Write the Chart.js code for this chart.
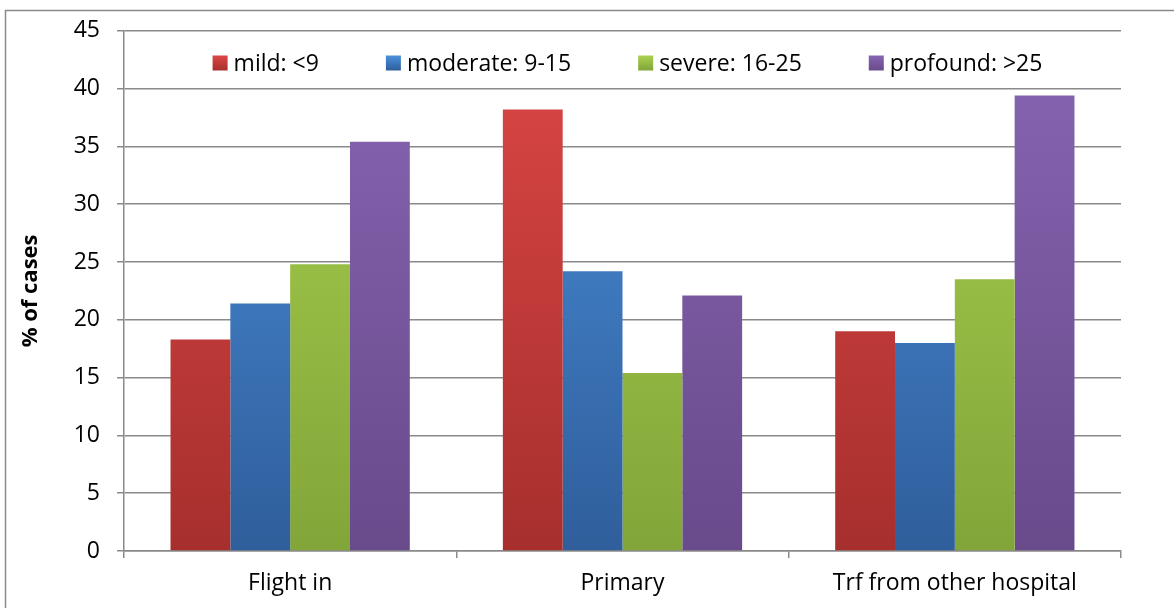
<!DOCTYPE html>
<html>
<head>
<meta charset="utf-8">
<script src="https://cdn.jsdelivr.net/npm/chart.js@4"></script>
<style>
  html, body { margin: 0; padding: 0; background: #fff; }
  #wrap { width: 1174px; height: 608px; position: relative; }
</style>
</head>
<body>
<div id="wrap"><canvas id="chart"></canvas></div>
<script>
// % of cases by severity, per mode of arrival
const categories = ['Flight in', 'Primary', 'Trf from other hospital'];
const seriesNames = ['mild: <9', 'moderate: 9-15', 'severe: 16-25', 'profound: >25'];
const mild = [18.3, 38.2, 19.0];
const moderate = [21.4, 24.2, 18.0];
const severe = [24.8, 15.4, 23.5];
const profound = [35.4, 22.1, 39.4];
const yTicks = [0, 5, 10, 15, 20, 25, 30, 35, 40, 45];

// top / bottom shade for each series
const shades = [
    ['#dc4745', '#a62f2d'],
    ['#4b90dc', '#2f5e9b'],
    ['#aad14f', '#82a539'],
    ['#8865b3', '#694a8b']
];

const FONT = "'Open Sans', 'Liberation Sans', sans-serif";

function barFill(i) {
    return function(context) {
        const area = context.chart.chartArea;
        if (!area) return shades[i][0];
        const g = context.chart.ctx.createLinearGradient(0, area.top, 0, area.bottom);
        g.addColorStop(0, shades[i][0]);
        g.addColorStop(1, shades[i][1]);
        return g;
    };
}

// frame round the whole chart (only top and left edges show)
const framePlugin = {
    id: 'frame',
    beforeDraw(chart) {
        const ctx = chart.ctx;
        ctx.save();
        ctx.strokeStyle = '#8a8a8a';
        ctx.lineWidth = 1.5;
        ctx.strokeRect(5.5, 10.5, 1400, 800);
        ctx.restore();
    }
};

// legend drawn inside the plot area, one row, centred
const insideLegend = {
    id: 'insideLegend',
    afterDraw(chart) {
        const ctx = chart.ctx;
        const area = chart.chartArea;
        const box = 15, gapBox = 6, gapItem = 67;
        ctx.save();
        ctx.font = '23px ' + FONT;
        ctx.textBaseline = 'middle';
        const items = chart.data.datasets.map((ds, i) => ({
            label: ds.label,
            w: ctx.measureText(ds.label).width,
            i: i
        }));
        let total = 0;
        items.forEach((it, k) => { total += box + gapBox + it.w + (k < items.length - 1 ? gapItem : 0); });
        let x = (area.left + area.right) / 2 - total / 2 + 5;
        const y = 63;
        items.forEach(it => {
            const g = ctx.createLinearGradient(0, y - box / 2, 0, y + box / 2);
            g.addColorStop(0, shades[it.i][0]);
            g.addColorStop(1, shades[it.i][1]);
            ctx.fillStyle = g;
            ctx.fillRect(x, y - box / 2, box, box);
            ctx.fillStyle = '#000';
            ctx.fillText(it.label, x + box + gapBox, y + 1);
            x += box + gapBox + it.w + gapItem;
        });
        ctx.restore();
    }
};

const series = [mild, moderate, severe, profound];

const ctx = document.getElementById('chart').getContext('2d');
const chart = new Chart(ctx, {
    type: 'bar',
    data: {
        labels: categories,
        datasets: series.map((vals, i) => ({
            label: seriesNames[i],
            data: vals,
            backgroundColor: barFill(i),
            borderWidth: 0,
            categoryPercentage: 0.72,
            barPercentage: 1.0
        }))
    },
    options: {
        responsive: true,
        maintainAspectRatio: false,
        animation: false,
        layout: {
            padding: { top: 29, right: 53, bottom: 0, left: 0 }
        },
        plugins: {
            legend: { display: false },
            tooltip: { enabled: false }
        },
        scales: {
            x: {
                grid: {
                    display: true,
                    drawOnChartArea: false,
                    drawTicks: true,
                    tickLength: 7,
                    color: '#8a8a8a',
                    lineWidth: 1.5
                },
                border: { color: '#8a8a8a', width: 1.5 },
                ticks: {
                    color: '#000',
                    font: { family: FONT, size: 23 },
                    padding: 12,
                    maxRotation: 0
                },
                afterFit: function(scale) { scale.height = 57; }
            },
            y: {
                min: 0,
                max: 45,
                afterBuildTicks: function(scale) {
                    scale.ticks = yTicks.map(v => ({ value: v }));
                },
                grid: {
                    color: '#8a8a8a',
                    lineWidth: 1.5,
                    drawTicks: true,
                    tickLength: 7
                },
                border: { color: '#8a8a8a', width: 1.5 },
                ticks: {
                    color: '#000',
                    font: { family: FONT, size: 23 },
                    padding: 17
                },
                title: {
                    display: true,
                    text: '% of cases',
                    color: '#000',
                    font: { family: FONT, size: 22, weight: 'bold' },
                    padding: { top: 18, bottom: 0 }
                },
                afterFit: function(scale) { scale.width = 124; }
            }
        }
    },
    plugins: [framePlugin, insideLegend]
});
</script>
</body>
</html>
